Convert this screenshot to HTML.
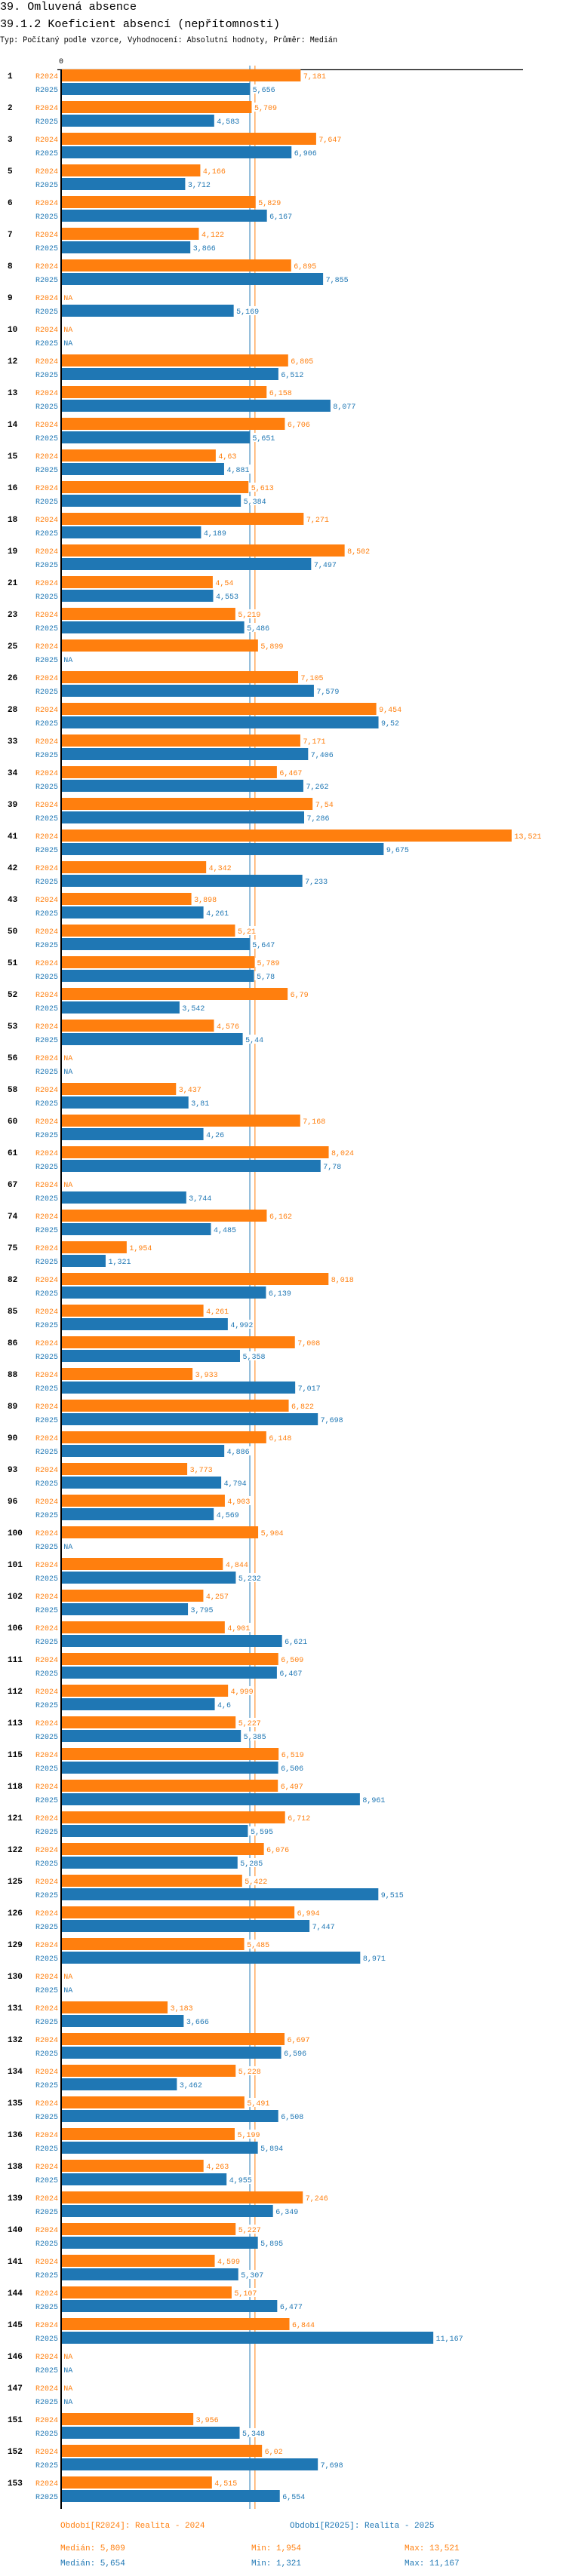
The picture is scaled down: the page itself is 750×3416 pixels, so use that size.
<!DOCTYPE html>
<html><head><meta charset="utf-8"><style>
html,body{margin:0;padding:0;background:#fff;}
svg{display:block;font-family:"Liberation Mono","DejaVu Sans Mono",monospace;}
</style></head><body>
<svg id="chart" width="750" height="3416" viewBox="0 0 750 3416" xmlns="http://www.w3.org/2000/svg">
<text x="0" y="13" font-size="15" textLength="181" lengthAdjust="spacingAndGlyphs">39. Omluvená absence</text>
<text x="0" y="36" font-size="15" textLength="371" lengthAdjust="spacingAndGlyphs">39.1.2 Koeficient absencí (nepřítomnosti)</text>
<text x="0" y="56" font-size="11" textLength="447" lengthAdjust="spacingAndGlyphs">Typ: Počítaný podle vzorce, Vyhodnocení: Absolutní hodnoty, Průměr: Medián</text>
<g id="plot"></g>
<g id="footer" font-size="11">
<text x="80" y="3352" fill="#ff7f0e">Období[R2024]: Realita - 2024</text>
<text x="384" y="3352" fill="#1f77b4">Období[R2025]: Realita - 2025</text>
<text x="80" y="3382" fill="#ff7f0e">Medián: 5,809</text>
<text x="333" y="3382" fill="#ff7f0e">Min: 1,954</text>
<text x="536" y="3382" fill="#ff7f0e">Max: 13,521</text>
<text x="80" y="3402" fill="#1f77b4">Medián: 5,654</text>
<text x="333" y="3402" fill="#1f77b4">Min: 1,321</text>
<text x="536" y="3402" fill="#1f77b4">Max: 11,167</text>
</g>
</svg>
<script>
const categories = ["1","2","3","5","6","7","8","9","10","12","13","14","15","16","18","19","21","23","25","26","28","33","34","39","41","42","43","50","51","52","53","56","58","60","61","67","74","75","82","85","86","88","89","90","93","96","100","101","102","106","111","112","113","115","118","121","122","125","126","129","130","131","132","134","135","136","138","139","140","141","144","145","146","147","151","152","153"];
const values2024 = [7.181,5.709,7.647,4.166,5.829,4.122,6.895,null,null,6.805,6.158,6.706,4.63,5.613,7.271,8.502,4.54,5.219,5.899,7.105,9.454,7.171,6.467,7.54,13.521,4.342,3.898,5.21,5.789,6.79,4.576,null,3.437,7.168,8.024,null,6.162,1.954,8.018,4.261,7.008,3.933,6.822,6.148,3.773,4.903,5.904,4.844,4.257,4.901,6.509,4.999,5.227,6.519,6.497,6.712,6.076,5.422,6.994,5.485,null,3.183,6.697,5.228,5.491,5.199,4.263,7.246,5.227,4.599,5.107,6.844,null,null,3.956,6.02,4.515];
const values2025 = [5.656,4.583,6.906,3.712,6.167,3.866,7.855,5.169,null,6.512,8.077,5.651,4.881,5.384,4.189,7.497,4.553,5.486,null,7.579,9.52,7.406,7.262,7.286,9.675,7.233,4.261,5.647,5.78,3.542,5.44,null,3.81,4.26,7.78,3.744,4.485,1.321,6.139,4.992,5.358,7.017,7.698,4.886,4.794,4.569,null,5.232,3.795,6.621,6.467,4.6,5.385,6.506,8.961,5.595,5.285,9.515,7.447,8.971,null,3.666,6.596,3.462,6.508,5.894,4.955,6.349,5.895,5.307,6.477,11.167,null,null,5.348,7.698,6.554];
const medians = [5.809, 5.654];
const seriesNames = ["R2024","R2025"];
const colors = ["#ff7f0e","#1f77b4"];

const X0 = 81.7, SCALE = 44.1, TOP = 92, PITCH = 42, BAR_H = 16, SUB = 18;
const xs = v => X0 + v * SCALE;
const yGroup = i => TOP + i * PITCH;
const NS = "http://www.w3.org/2000/svg";
const plot = document.getElementById("plot");
function mk(tag, attrs, text) {
  const e = document.createElementNS(NS, tag);
  for (const k in attrs) e.setAttribute(k, attrs[k]);
  if (text !== undefined) e.textContent = text;
  plot.appendChild(e);
  return e;
}
const fmt = v => String(v).replace(".", ",");
const bottom = yGroup(categories.length - 1) + 43;

// zero tick and top axis
let z = mk("text", {x: 81, y: 84, "font-size": 10, "text-anchor": "middle"}, "0");


let ax = mk("line", {x1: 76, y1: 92.5, x2: 693, y2: 92.5, stroke: "#000", "stroke-width": 1.2});



// median lines
medians.forEach((m, s) => {
  const l = mk("line", {x1: xs(m), y1: 87, x2: xs(m), y2: bottom, stroke: colors[s], "stroke-width": 1});
  
  
});

categories.forEach((c, i) => {
  const y = yGroup(i);
  const g = mk("text", {x: 10, y: y + 12, "font-size": 11, "font-weight": "bold"}, c);
  
  
  [values2024, values2025].forEach((arr, s) => {
    const v = arr[i];
    const by = y + s * SUB;
    const sl = mk("text", {x: 77, y: by + 12, "font-size": 10, "text-anchor": "end", fill: colors[s]}, seriesNames[s]);
    
    
    if (v === null) {
      const na = mk("text", {x: X0 + 2.5, y: by + 12, "font-size": 10, fill: colors[s]}, "NA");
      
      
      return;
    }
    const r = mk("rect", {x: X0, y: by, width: xs(v) - X0, height: BAR_H, fill: colors[s]});
    
    
    const txt = fmt(v);
    const bg = mk("rect", {x: xs(v) + 1, y: by + 2, width: txt.length * 6 + 4, height: 12, fill: "#fff"});
    
    
    const t = mk("text", {x: xs(v) + 3.5, y: by + 12, "font-size": 10, fill: colors[s]}, txt);
    
    
  });
});

// y axis line
let ya = mk("line", {x1: 81, y1: 92, x2: 81, y2: bottom, stroke: "#000", "stroke-width": 2});


</script>
</body></html>
